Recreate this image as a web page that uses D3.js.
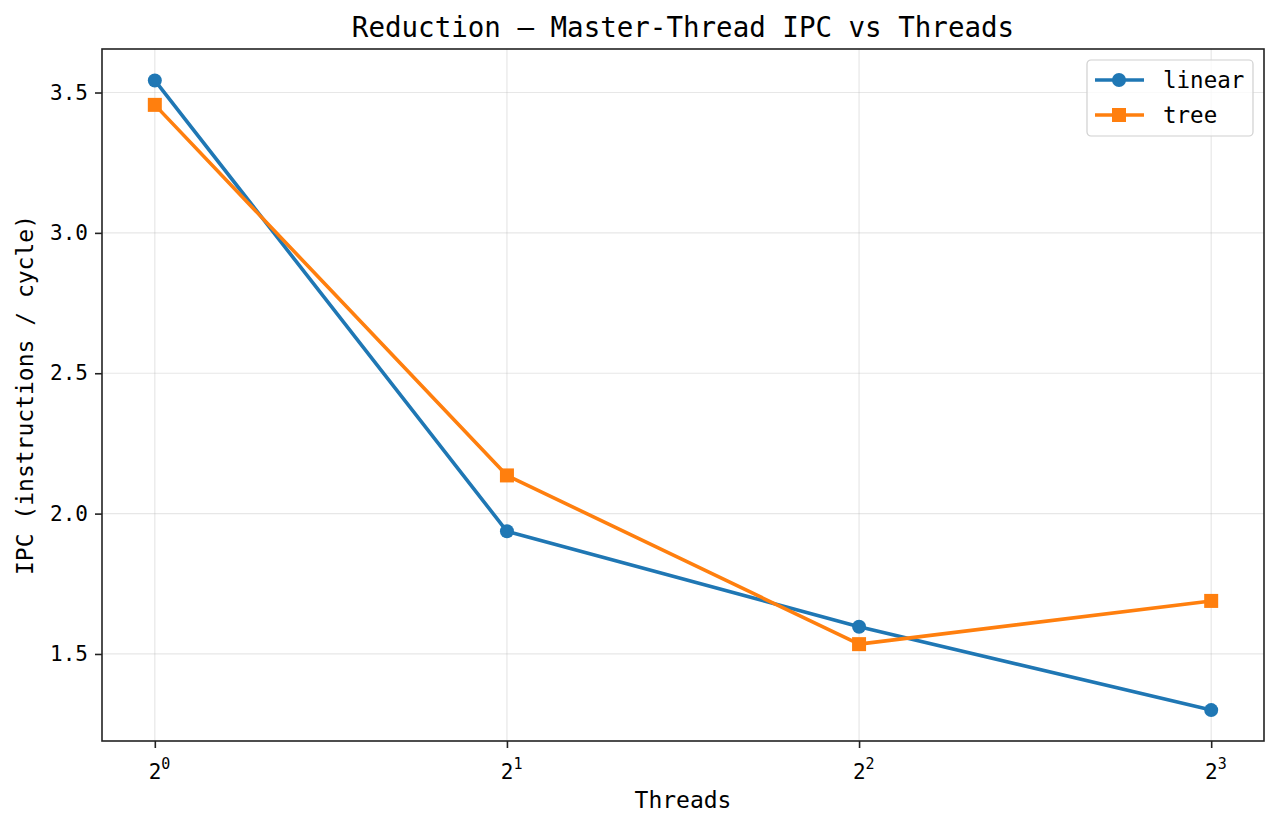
<!DOCTYPE html>
<html>
<head>
<meta charset="utf-8">
<script src="https://cdn.jsdelivr.net/npm/d3@7"></script>
<style>
  body { margin: 0; background: #fff; }
  svg text { font-family: "DejaVu Sans Mono", monospace; fill: #000; }
</style>
</head>
<body>
<svg id="chart" width="1279" height="828"></svg>
<script>
// data
const threads = [1, 2, 4, 8];
const linearIPC = [3.543, 1.937, 1.597, 1.300];
const treeIPC = [3.456, 2.136, 1.535, 1.689];
const yTicks = [1.5, 2.0, 2.5, 3.0, 3.5];
const seriesNames = ['linear', 'tree'];
const seriesColors = ['#1f77b4', '#ff7f0e'];

const margin = { top: 49, right: 15, bottom: 87, left: 102 };
const width = 1279, height = 828;
const svg = d3.select('#chart');

const x = d3.scaleLog().base(2)
  .domain([1 / Math.pow(2, 0.15), 8 * Math.pow(2, 0.15)])
  .range([margin.left, width - margin.right]);
const y = d3.scaleLinear()
  .domain([1.19, 3.655])
  .range([height - margin.bottom, margin.top]);

// grid
const grid = svg.append('g');
grid.selectAll('line.gx').data(threads).enter().append('line')
  .attr('x1', d => x(d)).attr('x2', d => x(d))
  .attr('y1', margin.top).attr('y2', height - margin.bottom)
  .attr('stroke', '#b0b0b0').attr('stroke-opacity', 0.3).attr('stroke-width', 1.2);
grid.selectAll('line.gy').data(yTicks).enter().append('line')
  .attr('x1', margin.left).attr('x2', width - margin.right)
  .attr('y1', d => y(d)).attr('y2', d => y(d))
  .attr('stroke', '#b0b0b0').attr('stroke-opacity', 0.3).attr('stroke-width', 1.2);

// axes
const xAxis = svg.append('g')
  .attr('transform', `translate(0,${height - margin.bottom})`)
  .call(d3.axisBottom(x).tickValues(threads).tickSize(7).tickPadding(9).tickFormat(() => ''));
xAxis.selectAll('.tick').each(function (d) {
  const t = d3.select(this).select('text');
  t.attr('font-size', 21).attr('dy', '1.05em').attr('dx', '0.2em');
  t.append('tspan').text('2');
  t.append('tspan').attr('font-size', 15).attr('dy', '-0.65em').text(Math.log2(d));
});
const yAxis = svg.append('g')
  .attr('transform', `translate(${margin.left},0)`)
  .call(d3.axisLeft(y).tickValues(yTicks).tickSize(7).tickPadding(7).tickFormat(d3.format('.1f')));
yAxis.selectAll('text').attr('font-size', 21);
svg.selectAll('.domain').remove();
svg.selectAll('.tick line').attr('stroke', '#222').attr('stroke-width', 1.6);

// frame
svg.append('rect')
  .attr('x', margin.left).attr('y', margin.top)
  .attr('width', width - margin.left - margin.right)
  .attr('height', height - margin.top - margin.bottom)
  .attr('fill', 'none').attr('stroke', '#222').attr('stroke-width', 1.6);

// series
const series = [linearIPC, treeIPC];
const line = d3.line().x((d, i) => x(threads[i])).y(d => y(d));
series.forEach((vals, k) => {
  svg.append('path').datum(vals)
    .attr('d', line).attr('fill', 'none')
    .attr('stroke', seriesColors[k]).attr('stroke-width', 3.6)
    .attr('stroke-linejoin', 'round');
  const g = svg.append('g');
  if (k === 0) {
    g.selectAll('circle').data(vals).enter().append('circle')
      .attr('cx', (d, i) => x(threads[i])).attr('cy', d => y(d))
      .attr('r', 7).attr('fill', seriesColors[k]);
  } else {
    g.selectAll('rect').data(vals).enter().append('rect')
      .attr('x', (d, i) => x(threads[i]) - 7).attr('y', d => y(d) - 7)
      .attr('width', 14).attr('height', 14).attr('fill', seriesColors[k]);
  }
});

// title and labels
svg.append('text').attr('x', (margin.left + width - margin.right) / 2).attr('y', 37)
  .attr('text-anchor', 'middle').attr('font-size', 27.5)
  .text('Reduction \u2014 Master-Thread IPC vs Threads');
svg.append('text').attr('x', (margin.left + width - margin.right) / 2).attr('y', 808)
  .attr('text-anchor', 'middle').attr('font-size', 23).text('Threads');
svg.append('text')
  .attr('transform', `translate(33,${(margin.top + height - margin.bottom) / 2}) rotate(-90)`)
  .attr('text-anchor', 'middle').attr('font-size', 23)
  .text('IPC (instructions / cycle)');

// legend
const lg = svg.append('g').attr('transform', 'translate(1087,60)');
lg.append('rect').attr('width', 166).attr('height', 76).attr('rx', 4)
  .attr('fill', '#fff').attr('fill-opacity', 0.8).attr('stroke', '#d0d0d0').attr('stroke-width', 1.2);
seriesNames.forEach((name, k) => {
  const yy = 20 + k * 35;
  lg.append('line').attr('x1', 8).attr('x2', 57).attr('y1', yy).attr('y2', yy)
    .attr('stroke', seriesColors[k]).attr('stroke-width', 3.6);
  if (k === 0) lg.append('circle').attr('cx', 32).attr('cy', yy).attr('r', 7).attr('fill', seriesColors[k]);
  else lg.append('rect').attr('x', 25).attr('y', yy - 7).attr('width', 14).attr('height', 14).attr('fill', seriesColors[k]);
  lg.append('text').attr('x', 76).attr('y', yy + 7.5).attr('font-size', 22.5).text(name);
});
</script>
</body>
</html>
